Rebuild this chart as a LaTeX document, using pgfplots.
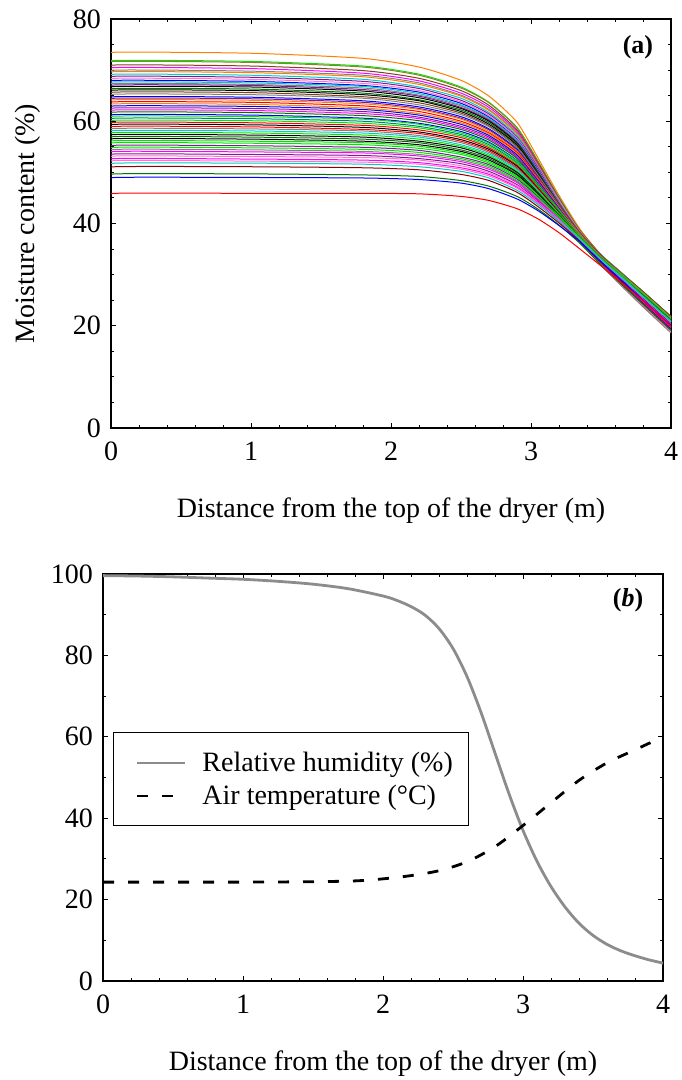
\documentclass[border=0pt]{standalone}
\usepackage{fontspec}
\setmainfont{Liberation Serif}
\usepackage{pgfplots}
\usepackage{pgfplotstable}
\pgfplotsset{compat=1.18}

\definecolor{cOrange}{rgb}{1,0.5,0}
\definecolor{cGreen}{rgb}{0,0.9,0}
\definecolor{cOlive}{rgb}{0.55,0.5,0.2}
\definecolor{cBrown}{rgb}{0.5,0.25,0.1}
\definecolor{cMagenta}{rgb}{1,0,1}
\definecolor{cGray}{rgb}{0.5,0.5,0.5}
\definecolor{cCyan}{rgb}{0,0.8,0.8}
\definecolor{cPurple}{rgb}{0.5,0.1,0.6}
\definecolor{cPink}{rgb}{1,0.45,0.8}
\definecolor{cBlue}{rgb}{0,0,1}
\definecolor{cBlack}{rgb}{0,0,0}
\definecolor{cDkGreen}{rgb}{0,0.45,0}
\definecolor{cRed}{rgb}{1,0,0}
\definecolor{cDkRed}{rgb}{0.55,0,0}
\definecolor{cTeal}{rgb}{0,0.5,0.5}
\definecolor{rhgray}{rgb}{0.55,0.55,0.55}

% moisture content curves: one row per curve, values at the x positions listed below
\pgfplotstableread{
id p0 p1 p2 p3 p4 p5 p6 p7 p8 p9 p10 p11 p12 p13 p14
c1 72.5 73.5 73.3 72.3 70.6 68.0 64.9 59.8 52.8 45.5 38.9 33.9 30.2 26.6 21.8
c2 70.9 71.9 71.7 70.8 69.2 66.7 63.7 58.8 52.2 45.1 38.6 33.9 30.2 26.6 21.8
c3 70.7 71.7 71.5 70.6 69.0 66.5 63.6 58.7 52.1 45.0 38.4 33.6 29.7 26.1 21.2
c4 70.0 71.0 70.8 69.9 68.4 66.0 63.1 58.3 51.8 44.9 38.6 33.9 30.1 26.6 21.7
c5 69.5 70.5 70.3 69.4 67.9 65.5 62.7 58.0 51.5 44.7 38.2 33.2 29.3 25.6 20.7
c6 69.0 70.0 69.8 69.0 67.5 65.1 62.3 57.7 51.3 44.7 38.5 33.8 30.2 26.5 21.7
c7 68.7 69.7 69.5 68.7 67.2 64.9 62.1 57.5 51.2 44.4 38.0 33.0 29.0 25.1 20.1
c8 68.2 69.2 69.0 68.2 66.7 64.5 61.7 57.2 51.0 44.4 38.3 33.6 29.9 26.2 21.3
c9 67.8 68.8 68.6 67.8 66.4 64.1 61.4 56.9 50.9 44.1 37.6 32.6 28.6 24.6 19.6
c10 67.4 68.4 68.2 67.4 66.0 63.8 61.1 56.7 50.7 44.4 38.4 33.8 30.2 26.6 21.8
c11 67.0 68.0 67.8 67.0 65.7 63.5 60.8 56.4 50.5 44.1 38.0 33.2 29.4 25.6 20.7
c12 66.7 67.7 67.5 66.8 65.4 63.2 60.6 56.3 50.3 43.9 37.8 33.0 29.0 25.2 20.2
c13 66.4 67.4 67.2 66.5 65.1 63.0 60.4 56.1 50.2 44.1 38.3 33.9 30.3 26.7 21.8
c14 66.1 67.1 67.0 66.2 64.9 62.7 60.2 55.9 50.1 43.9 38.1 33.4 29.6 25.9 21.0
c15 65.8 66.8 66.7 65.9 64.6 62.5 60.0 55.7 49.9 43.7 37.6 32.6 28.6 24.7 19.6
c16 65.4 66.4 66.3 65.5 64.2 62.2 59.7 55.5 49.9 43.8 38.0 33.6 29.9 26.3 21.4
c17 65.1 66.1 66.0 65.2 64.0 61.9 59.4 55.3 49.7 43.6 37.6 32.9 29.0 25.3 20.3
c18 64.7 65.7 65.6 64.8 63.6 61.6 59.1 55.0 49.5 43.7 38.2 33.8 30.2 26.7 21.8
c19 64.3 65.3 65.2 64.5 63.2 61.3 58.9 54.8 49.4 43.5 37.8 33.4 29.5 25.8 20.9
c20 63.8 64.8 64.7 64.0 62.8 60.9 58.5 54.5 49.1 43.2 37.3 32.6 28.6 24.7 19.7
c21 63.5 64.5 64.4 63.7 62.5 60.6 58.3 54.3 49.0 43.4 38.0 33.5 29.8 26.2 21.4
c22 63.2 64.2 64.1 63.4 62.3 60.4 58.0 54.1 48.8 43.2 37.6 33.0 29.0 25.3 20.4
c23 62.8 63.8 63.7 63.0 61.9 60.0 57.7 53.9 48.8 42.9 37.1 32.3 28.1 24.2 19.1
c24 62.4 63.4 63.3 62.6 61.5 59.7 57.5 53.6 48.6 43.1 37.9 33.5 29.9 26.4 21.5
c25 62.0 63.0 62.9 62.3 61.2 59.4 57.2 53.4 48.4 43.0 37.6 33.1 29.3 25.5 20.6
c26 61.6 62.6 62.5 61.9 60.8 59.0 56.9 53.1 48.2 42.7 37.2 32.6 28.7 24.8 19.8
c27 61.2 62.2 62.1 61.5 60.5 58.7 56.6 52.9 48.0 42.8 37.7 33.5 29.8 26.2 21.3
c28 60.8 61.8 61.7 61.1 60.1 58.4 56.3 52.7 47.8 42.7 37.6 33.2 29.5 25.8 20.9
c29 60.3 61.3 61.2 60.6 59.6 58.0 55.9 52.3 47.6 42.4 36.9 32.2 28.2 24.2 19.2
c30 60.0 61.0 60.9 60.4 59.4 57.7 55.7 52.2 47.6 42.6 37.7 33.5 30.0 26.4 21.5
c31 59.6 60.6 60.5 60.0 59.0 57.4 55.4 51.9 47.4 42.3 37.2 32.9 29.0 25.3 20.3
c32 59.2 60.2 60.1 59.6 58.7 57.1 55.1 51.7 47.2 42.2 37.1 32.5 28.6 24.8 19.8
c33 58.8 59.8 59.7 59.2 58.3 56.8 54.8 51.4 47.0 42.2 37.5 33.3 29.6 25.9 21.1
c34 58.4 59.4 59.3 58.8 57.9 56.4 54.5 51.2 46.8 42.1 37.3 32.9 29.2 25.5 20.5
c35 58.0 59.0 58.9 58.4 57.6 56.1 54.2 50.9 46.7 41.8 36.7 31.9 27.8 23.8 18.7
c36 57.6 58.6 58.5 58.1 57.2 55.8 53.9 50.7 46.5 42.0 37.5 33.3 29.7 26.1 21.3
c37 57.2 58.2 58.1 57.7 56.9 55.4 53.6 50.5 46.4 41.7 37.0 32.6 28.7 24.9 19.9
c38 56.8 57.8 57.7 57.3 56.5 55.1 53.3 50.2 46.2 41.8 37.2 33.0 29.3 25.6 20.7
c39 56.4 57.4 57.3 56.9 56.1 54.8 53.0 50.0 46.0 41.5 36.7 32.2 28.2 24.4 19.3
c40 56.0 57.0 56.9 56.5 55.8 54.4 52.7 49.7 45.8 41.7 37.3 33.2 29.5 26.0 21.1
c41 55.6 56.6 56.5 56.1 55.4 54.1 52.4 49.5 45.7 41.4 37.0 32.7 28.9 25.2 20.2
c42 55.2 56.2 56.1 55.8 55.1 53.8 52.1 49.2 45.5 41.1 36.6 32.1 28.0 24.1 19.0
c43 54.8 55.8 55.7 55.4 54.7 53.5 51.8 49.0 45.3 41.4 37.1 33.0 29.2 25.6 20.7
c44 54.3 55.3 55.2 54.9 54.3 53.0 51.5 48.7 45.2 41.1 36.7 32.4 28.5 24.7 19.6
c45 53.9 54.9 54.8 54.5 53.9 52.7 51.2 48.4 45.0 41.1 37.2 33.1 29.5 25.8 20.9
c46 53.5 54.5 54.4 54.1 53.5 52.4 50.9 48.2 44.8 40.7 36.3 31.8 27.7 23.7 18.6
c47 53.1 54.1 54.0 53.8 53.2 52.1 50.6 48.0 44.6 40.9 36.8 32.8 29.0 25.2 20.3
c48 52.6 53.6 53.5 53.3 52.7 51.7 50.2 47.6 44.4 40.6 36.4 32.2 28.2 24.3 19.2
c49 52.2 53.2 53.1 52.9 52.4 51.3 49.9 47.4 44.2 40.7 36.9 32.9 29.3 25.6 20.7
c50 51.7 52.7 52.6 52.4 51.9 50.9 49.6 47.1 44.1 40.4 36.5 32.3 28.5 24.7 19.7
c51 51.3 52.3 52.2 52.0 51.6 50.6 49.3 46.9 43.9 40.3 36.2 31.9 27.9 24.0 18.8
c52 50.8 51.8 51.8 51.6 51.1 50.2 48.9 46.5 43.7 40.5 36.9 32.9 29.3 25.7 20.8
c53 50.1 51.1 51.1 50.9 50.5 49.6 48.4 46.1 43.3 40.1 36.5 32.4 28.6 24.9 19.9
c54 48.7 49.7 49.7 49.5 49.2 48.4 47.3 45.3 42.8 39.7 36.1 31.9 28.0 24.2 19.1
c55 48.0 49.0 49.0 48.9 48.6 47.9 46.8 44.8 42.5 39.6 36.4 32.5 28.8 25.0 20.0
c56 44.9 45.9 45.9 45.9 45.8 45.3 44.5 42.9 40.9 38.2 35.0 31.7 28.3 24.9 19.9
}\rawmc
\pgfplotstabletranspose[colnames from=id]\mc{\rawmc}
\pgfplotstablecreatecol[create col/set list={0,0.03,1.0,1.8,2.2,2.5,2.7,2.9,3.05,3.2,3.35,3.5,3.65,3.8,4.0}]{x}{\mc}

\pgfplotsset{
  panel/.style={
    scale only axis, width=280pt,
    xmin=0, xmax=4, xtick={0,1,2,3,4}, minor x tick num=4,
    tick align=inside, major tick length=2.5pt, minor tick length=1.5pt,
    axis line style={line width=1pt},
    every tick/.style={black, line width=0.5pt},
    tick label style={font=\fontsize{14}{16.8}\selectfont},
    label style={font=\fontsize{14}{16.8}\selectfont},
    /pgf/number format/assume math mode=true,
    xticklabel style={yshift=-3.5pt},
    yticklabel style={xshift=-1.5pt},
    xlabel style={at={(axis description cs:0.5,0)}, anchor=north, yshift=-31.3pt},
    xlabel={Distance from the top of the dryer (m)},
  }
}

\begin{document}
\begin{tikzpicture}
\useasboundingbox (0,0) rectangle (340.5pt,-540pt);

\begin{axis}[panel, at={(55.5pt,-9.5pt)}, anchor=north west, height=204.5pt,
  ymin=0, ymax=80, ytick={0,20,40,60,80}, minor y tick num=3,
  ylabel={Moisture content (\%)},
  ylabel style={at={(axis description cs:-0.148,0.5)}, anchor=center}]
\foreach \i/\c in {1/cOrange,2/cGreen,3/cOlive,4/cBrown,5/cMagenta,6/cGray,7/cOrange,8/cCyan,9/cPurple,10/cPink,
  11/cBlue,12/cCyan,13/cGray,14/cPurple,15/cBlack,16/cDkGreen,17/cBlack,18/cBrown,19/cGray,20/cBlue,
  21/cPurple,22/cOrange,23/cRed,24/cOrange,25/cBlue,26/cPurple,27/cMagenta,28/cDkGreen,29/cBlue,30/cGreen,
  31/cTeal,32/cGreen,33/cRed,34/cBlack,35/cRed,36/cGray,37/cCyan,38/cGreen,39/cBlack,40/cDkGreen,
  41/cBlack,42/cGreen,43/cGreen,44/cPurple,45/cGreen,46/cGray,47/cMagenta,48/cPurple,49/cPink,50/cMagenta,
  51/cPink,52/cCyan,53/cDkRed,54/cDkGreen,55/cBlue,56/cRed}{
  \edef\tmp{\noexpand\addplot[\c, line width=0.5pt, smooth, tension=0.4] table[x=x, y=c\i] {\noexpand\mc};}
  \tmp
}
\node[font=\bfseries\fontsize{13}{15}\selectfont] at (rel axis cs:0.941,0.9315) {(a)};
\end{axis}

\begin{axis}[panel, at={(51.5pt,-287pt)}, anchor=north west, height=203.5pt,
  ymin=0, ymax=100, ytick={0,20,40,60,80,100}, minor y tick num=1,
  legend style={at={(rel axis cs:0.018,0.381)}, anchor=south west, draw=none, fill=none, name=leg,
    inner xsep=7.5pt, inner ysep=9.15pt, row sep=5.3pt, column sep=0pt,
    nodes={inner sep=0pt, font=\fontsize{14}{16.8}\selectfont}},
  legend cell align=left,
  legend image code/.code={\draw[#1] (4.5pt,0pt) -- (28.5pt,0pt); \path[draw=none] (0pt,0pt) -- (37pt,0pt);}]
\addplot[rhgray, line width=1.4pt, smooth] coordinates {
(0,99.6) (0.25,99.5) (0.5,99.3) (0.75,99.0) (1.0,98.7) (1.25,98.2) (1.5,97.5) (1.75,96.4)
(2.0,94.6) (2.1,93.5) (2.2,92.0) (2.3,89.9) (2.4,86.6) (2.5,81.7) (2.6,74.8) (2.7,66.0)
(2.8,56.0) (2.9,46.0) (3.0,37.0) (3.1,29.4) (3.2,23.2) (3.3,18.2) (3.4,14.2) (3.5,11.2)
(3.6,9.0) (3.7,7.4) (3.8,6.2) (3.9,5.2) (4.0,4.4)};
\addplot[black, line width=1.4pt, dash pattern=on 5.5pt off 7pt, smooth] coordinates {
(0,24.3) (0.5,24.3) (1.0,24.3) (1.5,24.4) (1.8,24.6) (2.0,25.1) (2.2,25.9) (2.4,27.1)
(2.6,29.3) (2.8,33.0) (3.0,38.2) (3.2,43.8) (3.4,49.3) (3.6,53.6) (3.8,56.8) (4.0,60.0)};
\legend{Relative humidity (\%), Air temperature (°C)}
\node[font=\bfseries\fontsize{13}{15}\selectfont] at (rel axis cs:0.9375,0.936) {(\textit{b})};
\end{axis}
\draw[line width=0.5pt] (leg.south west) rectangle ([yshift=46.5pt]leg.south east);
\end{tikzpicture}
\end{document}
